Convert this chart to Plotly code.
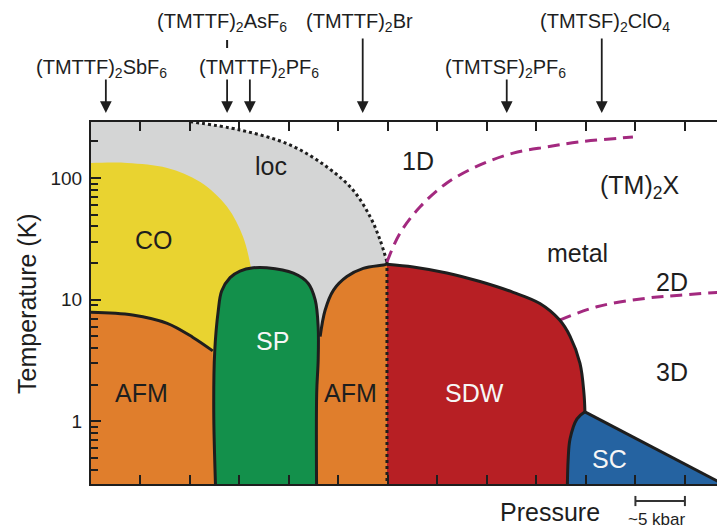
import plotly.graph_objects as go

# ---------------- data (pressure in tick units, T in K) ----------------
T_FLOOR = 0.2     # below the visible range (closes areas)
T_CEIL = 500      # above the visible range

compounds = ["(TMTTF)<sub>2</sub>SbF<sub>6</sub>", "(TMTTF)<sub>2</sub>AsF<sub>6</sub>",
             "(TMTTF)<sub>2</sub>PF<sub>6</sub>", "(TMTTF)<sub>2</sub>Br",
             "(TMTSF)<sub>2</sub>PF<sub>6</sub>", "(TMTSF)<sub>2</sub>ClO<sub>4</sub>"]
compound_p = [0.30, 2.75, 3.21, 5.49, 8.40, 10.32]
label_p = [0.22, 2.65, 3.39, 5.43, 8.38, 10.38]
label_row = [0, 1, 0, 1, 0, 1]
long_arrow = [False, False, False, True, False, True]

# charge localisation crossover (dotted)
loc_p = [2.00, 3.01, 4.02, 4.77, 5.29, 5.64, 5.84, 5.98]
loc_T = [290, 248, 187, 123, 80, 48, 31, 20.4]

# charge order
co_p = [0.0, 0.73, 1.54, 2.20, 2.75, 3.07, 3.23]
co_T = [133, 133, 121, 93, 58, 33, 18.6]

# AFM (left)
afm1_p = [0.0, 0.84, 1.54, 2.06, 2.46]
afm1_T = [7.9, 7.5, 6.4, 4.9, 3.8]

# spin-Peierls
sp_p = [2.53, 2.48, 2.50, 2.57, 2.64, 2.81, 3.01, 3.28, 3.55, 4.09, 4.39, 4.53, 4.59, 4.59, 4.56, 4.56]
sp_T = [T_FLOOR, 1.22, 3.78, 8.05, 11.8, 15.2, 17.2, 18.3, 18.3, 16.5, 13.6, 9.95, 6.0, 3.19, 1.71, T_FLOOR]

# AFM (middle)
afm2_p = [4.63, 4.73, 4.90, 5.17, 5.50, 5.91, 5.98]
afm2_T = [4.97, 8.2, 12.0, 15.5, 18.1, 19.3, 19.6]

# SDW
sdw_p = [5.98, 6.51, 7.19, 7.86, 8.53, 9.07, 9.47, 9.68, 9.88, 9.96, 9.98]
sdw_T = [19.6, 18.6, 16.6, 14.1, 11.5, 9.3, 6.8, 5.0, 3.0, 1.7, 1.2]

# superconductivity
sc_p = [9.98, 9.82, 9.68, 9.64, 9.62]
sc_T = [1.2, 1.05, 0.72, 0.48, T_FLOOR]
sc_top_p = [9.98, 12.9]
sc_top_T = [1.2, 0.287]

# dimensional crossovers (dashed)
cr12_p = [5.98, 6.24, 6.65, 7.19, 7.86, 8.53, 9.21, 9.88, 10.95]
cr12_T = [20.4, 35, 58, 91, 128, 160, 180, 198, 217]
cr23_p = [9.47, 10.22, 11.23, 11.90, 12.81]
cr23_T = [6.8, 8.75, 10.3, 10.9, 11.6]

# ---------------- styling ----------------
GRAY = "#d4d5d5"
YELLOW = "#e9d330"
ORANGE = "#e07e2c"
GREEN = "#13904b"
RED = "#b71f24"
BLUE = "#2563a1"
MAGENTA = "#a3297f"
INK = "#1e1e1e"
FONT = "Liberation Sans, Arial, sans-serif"
X_MAX = 12.81

fig = go.Figure()


def band(top_x, top_y, base_x, base_y, color):
    """Area between a (spline) top path and a straight base path."""
    fig.add_trace(go.Scatter(x=base_x, y=base_y, mode="lines", line=dict(width=0, color=color),
                             hoverinfo="skip", showlegend=False))
    fig.add_trace(go.Scatter(x=top_x, y=top_y, mode="lines", fill="tonexty", fillcolor=color,
                             line=dict(width=0, color=color, shape="spline"),
                             hoverinfo="skip", showlegend=False))


def blob(xs, ys, color, shape="spline"):
    fig.add_trace(go.Scatter(x=xs, y=ys, mode="lines", fill="toself", fillcolor=color,
                             line=dict(width=0, color=color, shape=shape),
                             hoverinfo="skip", showlegend=False))


def line(xs, ys, color=INK, width=3, dash="solid", shape="spline"):
    fig.add_trace(go.Scatter(x=xs, y=ys, mode="lines",
                             line=dict(width=width, color=color, dash=dash, shape=shape),
                             hoverinfo="skip", showlegend=False))


# areas
band([-0.3] + loc_p, [T_CEIL] + loc_T, [-0.3, loc_p[-1]], [T_FLOOR, T_FLOOR], GRAY)
band([-0.3] + co_p, [co_T[0]] + co_T, [-0.3, co_p[-1] + 0.07], [1.0, 1.0], YELLOW)
band([-0.3] + afm1_p, [afm1_T[0]] + afm1_T, [-0.3, sp_p[0]], [T_FLOOR, T_FLOOR], ORANGE)
band(afm2_p, afm2_T, [4.3, afm2_p[-1]], [T_FLOOR, T_FLOOR], ORANGE)
band(sdw_p + sc_p[1:], sdw_T + sc_T[1:], [sdw_p[0], sc_p[-1]], [T_FLOOR, T_FLOOR], RED)
blob(sp_p, sp_T, GREEN)
blob(sc_top_p + [sc_top_p[-1]] + sc_p[::-1], sc_top_T + [T_FLOOR] + sc_T[::-1], BLUE,
     shape="linear")

# boundaries
line(loc_p, loc_T, dash="dot")
line([loc_p[-1], loc_p[-1]], [loc_T[-1], T_FLOOR], dash="dot", shape="linear")
line(cr12_p, cr12_T, color=MAGENTA, dash="12px,7px")
line(cr23_p, cr23_T, color=MAGENTA, dash="12px,7px")
line(afm1_p, afm1_T)
line(sp_p, sp_T)
line(afm2_p, afm2_T)
line(sdw_p, sdw_T)
line(sc_p, sc_T)
line(sc_top_p, sc_top_T, shape="linear")

# dummy trace for the right-hand tick axis
fig.add_trace(go.Scatter(x=[None], y=[None], yaxis="y2", showlegend=False, hoverinfo="skip"))

annotations = []
for name, p, lp, row, lng in zip(compounds, compound_p, label_p, label_row, long_arrow):
    annotations.append(dict(x=lp, xref="x", y=1.276 if row else 1.149, yref="paper",
                            text=name, showarrow=False, xanchor="center", yanchor="middle",
                            font=dict(size=20, color=INK, family=FONT)))
    annotations.append(dict(x=p, xref="x", y=1.025, yref="paper", text="", showarrow=True,
                            ax=0, ay=-76 if lng else -35,
                            arrowhead=2, arrowsize=1.3, arrowwidth=1.8, arrowcolor=INK))

# region labels (x in pressure units, y in log10 K)
region_labels = [
    ("loc", 3.64, 2.099, INK), ("CO", 1.27, 1.491, INK), ("AFM", 1.03, 0.233, INK),
    ("SP", 3.66, 0.661, "#f6f6f6"), ("AFM", 5.25, 0.233, INK), ("SDW", 7.74, 0.233, "#f6f6f6"),
    ("SC", 10.48, -0.309, "#f6f6f6"), ("1D", 6.61, 2.140, INK),
    ("(TM)<sub>2</sub>X", 11.09, 1.93, INK), ("metal", 9.82, 1.384, INK),
    ("2D", 11.74, 1.145, INK), ("3D", 11.74, 0.406, INK),
]
for txt, x, y, col in region_labels:
    annotations.append(dict(x=x, y=y, xref="x", yref="y", text=txt, showarrow=False,
                            xanchor="center", yanchor="middle",
                            font=dict(size=25, color=col, family=FONT)))

annotations.append(dict(x=-0.101, y=0.5, xref="paper", yref="paper", text="Temperature (K)",
                        textangle=-90, showarrow=False, xanchor="center", yanchor="middle",
                        font=dict(size=25, color=INK, family=FONT)))
annotations.append(dict(x=9.27, y=-0.077, xref="x", yref="paper", text="Pressure",
                        showarrow=False, xanchor="center", yanchor="middle",
                        font=dict(size=25, color=INK, family=FONT)))
annotations.append(dict(x=11.43, y=-0.097, xref="x", yref="paper", text="~5 kbar",
                        showarrow=False, xanchor="center", yanchor="middle",
                        font=dict(size=17, color=INK, family=FONT)))

shapes = [
    # AsF6 marker dash
    dict(type="line", xref="paper", yref="paper", x0=2.75 / X_MAX, x1=2.75 / X_MAX,
         y0=1.2265, y1=1.2044, line=dict(color=INK, width=2)),
    # scale bar (one tick interval)
    dict(type="line", xref="paper", yref="paper", x0=11 / X_MAX, x1=12 / X_MAX,
         y0=-0.047, y1=-0.047, line=dict(color="#333", width=2)),
    dict(type="line", xref="paper", yref="paper", x0=11 / X_MAX, x1=11 / X_MAX,
         y0=-0.033, y1=-0.061, line=dict(color="#333", width=2)),
    dict(type="line", xref="paper", yref="paper", x0=12 / X_MAX, x1=12 / X_MAX,
         y0=-0.033, y1=-0.061, line=dict(color="#333", width=2)),
]

# page body adds an 8px margin, so the figure is 8px smaller than the window
fig.update_layout(
    width=717, height=521,
    margin=dict(l=83, r=0, t=114, b=45),
    plot_bgcolor="white", paper_bgcolor="white",
    hovermode=False, showlegend=False,
    font=dict(family=FONT, color=INK),
    xaxis=dict(range=[0, X_MAX], showline=True, linecolor=INK, linewidth=2, mirror="ticks",
               ticks="inside", tickvals=list(range(1, 13)), ticklen=9, tickwidth=1.5,
               tickcolor=INK, showticklabels=False, showgrid=False, zeroline=False),
    yaxis=dict(type="log", range=[-0.514, 2.46], showline=True, linecolor=INK, linewidth=2,
               ticks="inside", tickmode="linear", tick0=0, dtick=1, ticklen=10, tickwidth=1.5,
               tickcolor=INK, tickfont=dict(size=19, color=INK, family=FONT),
               ticklabelstandoff=3, showgrid=False, zeroline=False,
               minor=dict(ticks="inside", dtick="D1", ticklen=7, tickwidth=1.5,
                          tickcolor=INK, showgrid=False)),
    yaxis2=dict(type="log", range=[-0.514, 2.46], overlaying="y", side="right", anchor="x",
                ticks="inside", tickmode="array", tickvals=[1, 10, 100], ticklen=7,
                tickwidth=1.5, tickcolor=INK, showticklabels=False, showline=False,
                showgrid=False, zeroline=False),
    annotations=annotations,
    shapes=shapes,
)

fig.write_html("out.html")
